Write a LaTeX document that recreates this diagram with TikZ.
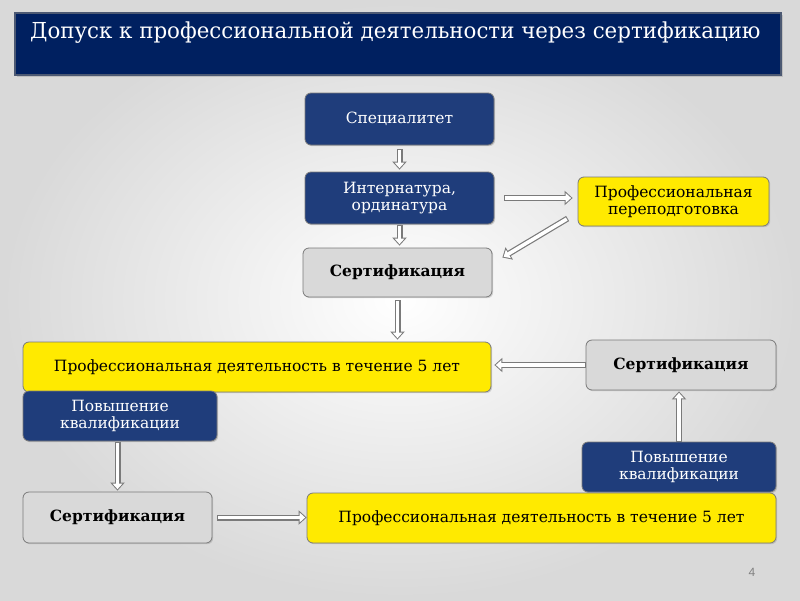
\documentclass[tikz,border=0pt]{standalone}
\usepackage{fontspec}
\setmainfont{DejaVu Serif}
\newfontfamily\titlefont{DejaVu Serif}[FakeStretch=0.97]
\newfontfamily\pagefont{Liberation Sans}
\usetikzlibrary{arrows.meta, shadows}

\definecolor{slideblue}{HTML}{002060}
\definecolor{boxblue}{HTML}{1F3D7B}
\definecolor{boxyellow}{HTML}{FFEA00}
\definecolor{boxgray}{HTML}{D9D9D9}
\definecolor{edgegray}{HTML}{7A7A7A}

% hollow block arrow: outline first, white core on top
\newcommand{\blockarrow}[4]{%
  \draw[arrow outer, shorten <= #3pt, shorten >= #4pt] (#1) -- (#2);
  \draw[arrow inner, shorten <= #3pt + 1pt, shorten >= #4pt + 1.5pt] (#1) -- (#2);
}

\begin{document}
\begin{tikzpicture}[x = 1pt, y = -1pt,
  box/.style = {draw = edgegray, line width = 0.8pt, rounded corners = 6pt,
    align = center, inner sep = 2pt, font = \fontsize{15.5}{17}\selectfont,
    drop shadow = {opacity = 0.3, shadow xshift = 1.2pt, shadow yshift = -1.2pt}},
  bluebox/.style = {box, fill = boxblue, text = white},
  yellowbox/.style = {box, fill = boxyellow},
  graybox/.style = {box, fill = boxgray, font = \fontsize{15.5}{17}\selectfont\bfseries},
  arrow outer/.style = {edgegray, line width = 6pt,
    -{Triangle[length = 8pt, width = 14pt]}},
  arrow inner/.style = {white, line width = 3.6pt,
    -{Triangle[length = 5.5pt, width = 9.6pt]}}]

\useasboundingbox (0, 0) rectangle (800, 600);
\shade[inner color = white, outer color = gray!30] (0, 0) rectangle (800, 600);

% title bar
\node[draw = gray!60!slideblue, line width = 1.2pt, fill = slideblue,
  minimum width = 766pt, minimum height = 62pt,
  drop shadow = {opacity = 0.3, shadow xshift = 1.5pt, shadow yshift = -1.5pt}]
  at (398, 44) (titlebar) {};
\node[anchor = base west, text = white, inner sep = 0pt,
  font = \titlefont\fontsize{22}{26}\selectfont] at (30, 38) (title)
  {Допуск к профессиональной деятельности через сертификацию};

% boxes
\node[bluebox, minimum width = 189pt, minimum height = 52pt] at (399.5, 119) (spec)
  {Специалитет};
\node[bluebox, minimum width = 189pt, minimum height = 52pt] at (399.5, 198) (intern)
  {Интернатура,\\ординатура};
\node[graybox, minimum width = 189pt, minimum height = 49pt] at (397.5, 272.5) (certA)
  {Сертификация};
\node[yellowbox, minimum width = 191pt, minimum height = 49pt] at (673.5, 201.5) (retrain)
  {Профессиональная\\переподготовка};
\node[yellowbox, minimum width = 468pt, minimum height = 50pt] at (257, 367) (workA)
  {Профессиональная деятельность в течение 5 лет};
\node[graybox, minimum width = 190pt, minimum height = 50pt] at (681, 365) (certB)
  {Сертификация};
\node[bluebox, minimum width = 194pt, minimum height = 50pt] at (120, 416) (qualA)
  {Повышение\\квалификации};
\node[graybox, minimum width = 189pt, minimum height = 51pt] at (117.5, 517.5) (certC)
  {Сертификация};
\node[bluebox, minimum width = 194pt, minimum height = 50pt] at (679, 467) (qualB)
  {Повышение\\квалификации};
\node[yellowbox, minimum width = 469pt, minimum height = 50pt] at (541.5, 518) (workB)
  {Профессиональная деятельность в течение 5 лет};

\coordinate (rt) at ([shift = {(-10, 17)}]retrain.west);
\coordinate (ct) at ([shift = {(10, -15)}]certA.east);

% arrows
\blockarrow{spec.south}{intern.north}{4}{2}
\blockarrow{intern.south}{intern.south |- certA.north}{1}{2}
\blockarrow{intern.east}{intern.east -| retrain.west}{10}{5}
\blockarrow{rt}{ct}{0}{0}
\blockarrow{certA.south}{certA.south |- workA.north}{3}{2}
\blockarrow{certB.west}{certB.west -| workA.east}{0}{3}
\blockarrow{qualB.north}{qualB.north |- certB.south}{0}{1}
\blockarrow{certC.north |- qualA.south}{certC.north}{1}{1}
\blockarrow{certC.east}{certC.east -| workB.west}{5}{0}

\node[text = gray, font = \pagefont\fontsize{12}{14}\selectfont] at (752, 572) (page) {4};
\end{tikzpicture}
\end{document}
